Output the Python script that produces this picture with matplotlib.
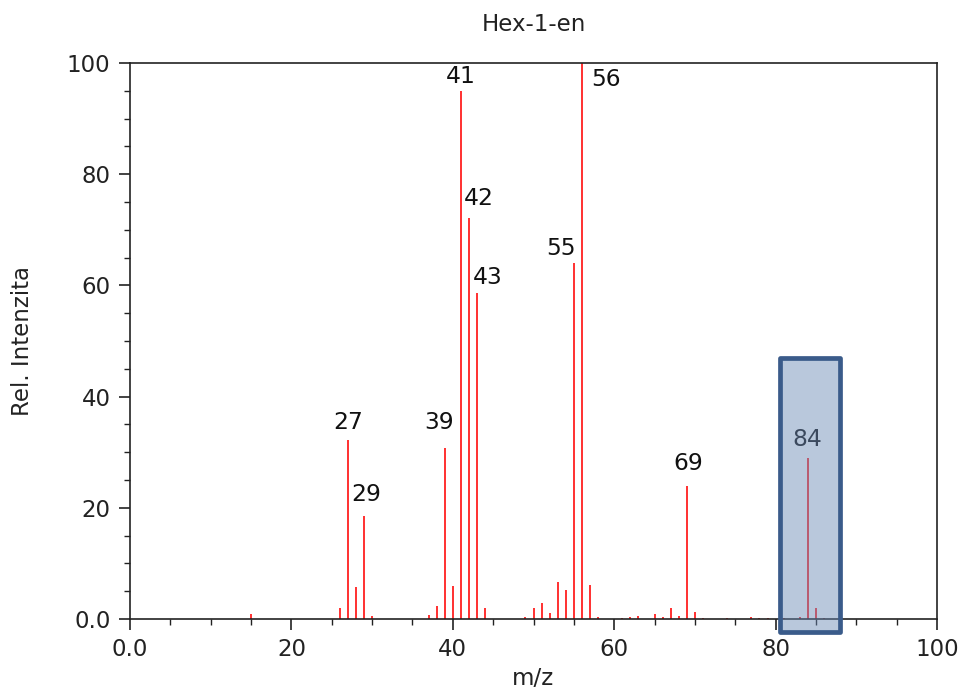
import matplotlib
matplotlib.use("Agg")
import matplotlib.pyplot as plt
from matplotlib.patches import Rectangle
from matplotlib.ticker import MultipleLocator

# ---- data ----
mz = [15, 26, 27, 28, 29, 30, 37, 38, 39, 40, 41, 42, 43, 44,
      49, 50, 51, 52, 53, 54, 55, 56, 57, 58,
      61, 62, 63, 65, 66, 67, 68, 69, 70, 71,
      74, 77, 78, 79, 81, 83, 84, 85, 86]
intensity = [0.9, 2.0, 32.2, 5.8, 18.5, 0.5, 0.8, 2.3, 30.8, 6.0, 95.0, 72.1, 58.6, 1.9,
             0.3, 2.0, 2.9, 1.1, 6.7, 5.2, 64.0, 100.0, 6.1, 0.3,
             0.2, 0.4, 0.6, 0.9, 0.3, 2.0, 0.5, 23.9, 1.3, 0.2,
             0.2, 0.4, 0.2, 0.2, 0.2, 0.3, 29.0, 2.0, 0.2]
labeled_peaks = [27, 29, 39, 41, 42, 43, 55, 56, 69, 84]
xtick_values = [0, 20, 40, 60, 80, 100]
xtick_labels = ["0.0", "20", "40", "60", "80", "100"]
ytick_values = [0, 20, 40, 60, 80, 100]
ytick_labels = ["0.0", "20", "40", "60", "80", "100"]
title = "Hex-1-en"
xlabel = "m/z"
ylabel = "Rel. Intenzita"

# label offsets in pixels (style)
label_offsets = {27: (0, 17), 29: (2, 22), 39: (-6, 25), 41: (0, 14), 42: (10, 20),
                 43: (11, 16), 55: (-13, 15), 56: (24, -17), 69: (1, 23), 84: (-1, 18)}

fig = plt.figure(figsize=(9.61, 6.89), dpi=100)
ax = fig.add_axes([130/961, 70/689, (937-130)/961, (619-63)/689])

ax.vlines(mz, 0, intensity, colors="#ff2020", linewidth=1.3, zorder=2)

inten_map = dict(zip(mz, intensity))
for p in labeled_peaks:
    dx, dy = label_offsets[p]
    ax.annotate(str(p), xy=(p, inten_map[p]), xytext=(dx, dy), textcoords="offset pixels",
                ha="center", va="center", fontsize=16.8, color="#111111", zorder=3)

ax.set_xlim(0, 100)
ax.set_ylim(0, 100)
ax.set_xticks(xtick_values)
ax.set_xticklabels(xtick_labels)
ax.set_yticks(ytick_values)
ax.set_yticklabels(ytick_labels)
ax.xaxis.set_minor_locator(MultipleLocator(5))
ax.yaxis.set_minor_locator(MultipleLocator(5))
ax.tick_params(which="major", direction="out", length=8, width=1.2, labelsize=16.5,
               colors="#222222", pad=6, top=False, right=False)
ax.tick_params(which="minor", direction="out", length=4, width=1.0,
               colors="#222222", top=False, right=False)
for s in ax.spines.values():
    s.set_linewidth(1.2)
    s.set_color("#222222")

ax.set_title(title, fontsize=16.5, pad=23, color="#222222")
ax.set_xlabel(xlabel, fontsize=16.5, labelpad=4, color="#222222")
ax.set_ylabel(ylabel, fontsize=16.5, labelpad=24, color="#222222")

# highlight box around m/z 84
rect = Rectangle((80.5, -2.3), 7.5, 49.3, facecolor=(0.42, 0.54, 0.71, 0.47),
                 edgecolor="#3a5b8a", linewidth=3.4, joinstyle="round",
                 clip_on=False, zorder=5)
ax.add_patch(rect)

fig.savefig("out.png", dpi=100)
